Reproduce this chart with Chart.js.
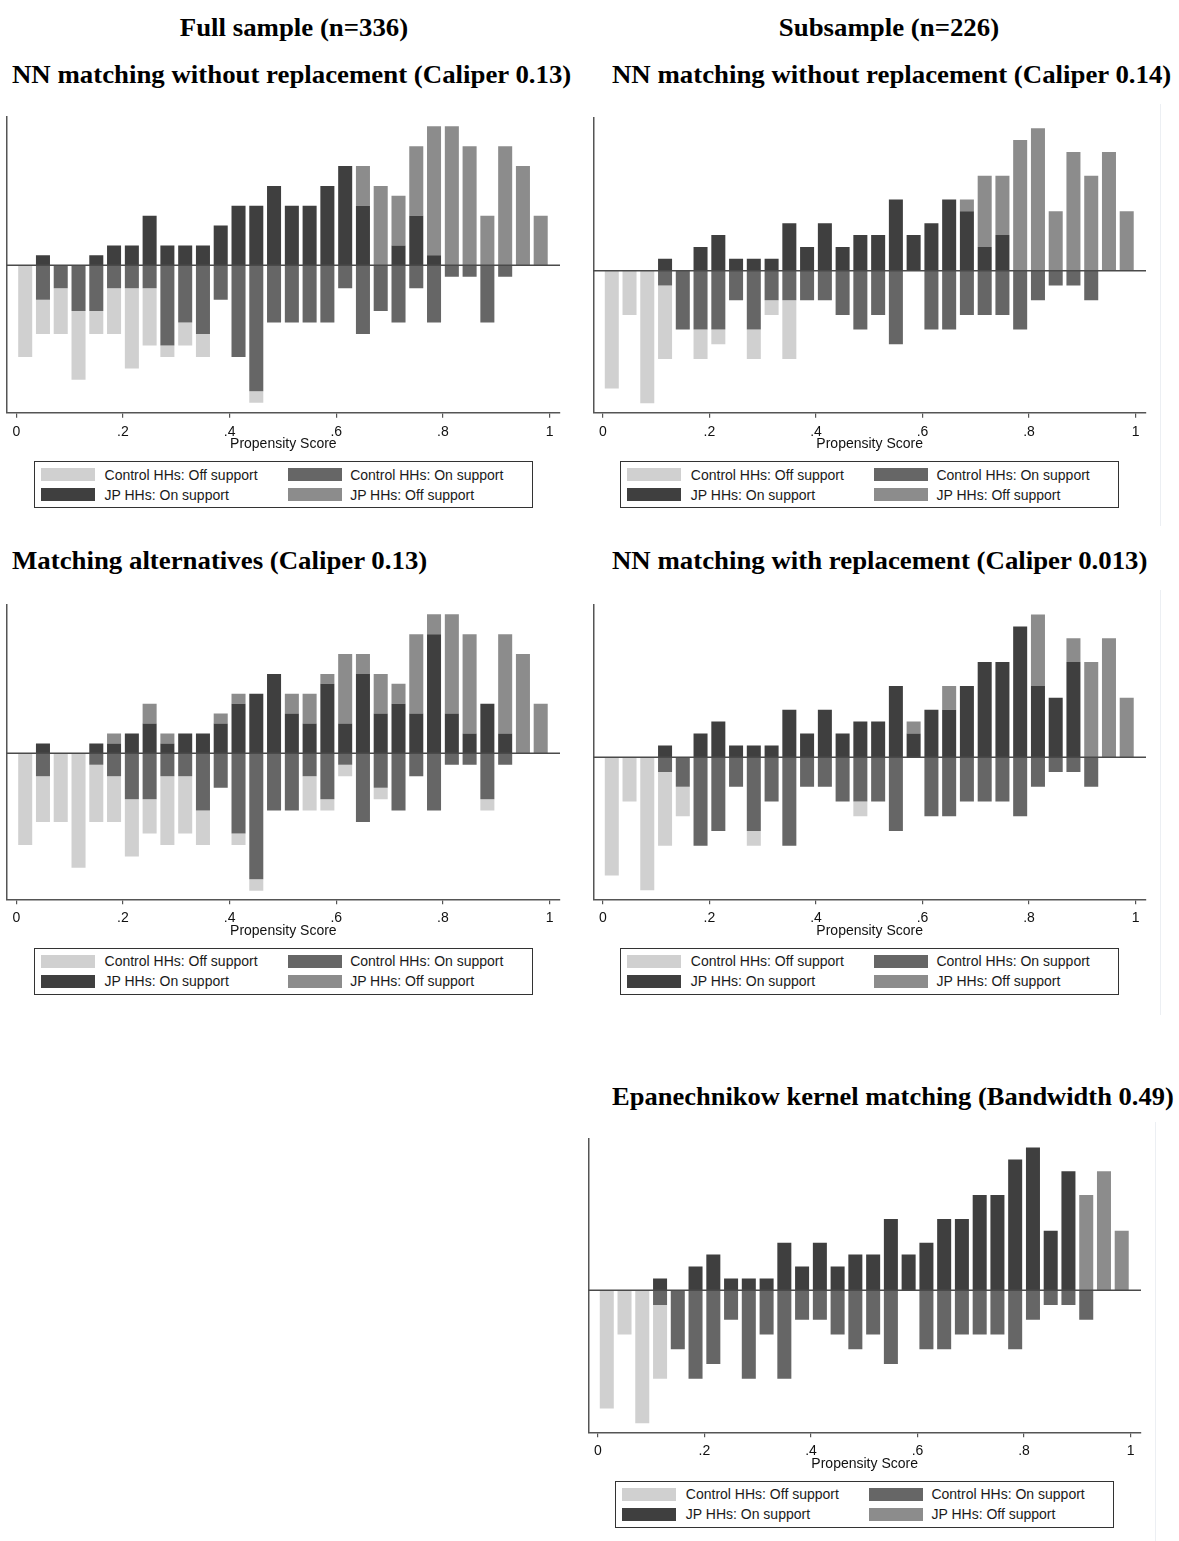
<!DOCTYPE html>
<html><head><meta charset="utf-8">
<script src="https://cdn.jsdelivr.net/npm/chart.js@4.4.1/dist/chart.umd.min.js"></script>
<style>
html,body{margin:0;padding:0;background:#fff;}
body{position:relative;width:1179px;height:1541px;overflow:hidden;}
.t{position:absolute;font-family:'Liberation Serif','Times New Roman',serif;font-weight:bold;font-size:25px;line-height:25px;color:#000;white-space:nowrap;transform:scaleX(1.073);transform-origin:0 0;}
.tc{transform-origin:50% 0;}
canvas{position:absolute;}
.lg{position:absolute;border:1px solid #333;box-sizing:border-box;font-family:'Liberation Sans',Arial,sans-serif;font-size:14px;color:#1a1a1a;}
.sw{position:absolute;width:54px;height:13px;}
.lt{position:absolute;line-height:14px;white-space:nowrap;}
.edge{position:absolute;width:1px;background:#eceff3;}
</style></head><body>
<div class="t tc" style="left:0;width:588px;text-align:center;top:15px;">Full sample (n=336)</div>
<div class="t tc" style="left:600px;width:578px;text-align:center;top:15px;">Subsample (n=226)</div>
<div class="t" style="left:12px;top:62px;">NN matching without replacement (Caliper 0.13)</div>
<div class="t" style="left:612px;top:62px;">NN matching without replacement (Caliper 0.14)</div>
<div class="t" style="left:12px;top:548px;">Matching alternatives (Caliper 0.13)</div>
<div class="t" style="left:612px;top:548px;">NN matching with replacement (Caliper 0.013)</div>
<div class="t" style="left:612px;top:1084px;transform:scaleX(1.06);">Epanechnikow kernel matching (Bandwidth 0.49)</div>
<div class="edge" style="left:1160px;top:104px;height:422px;"></div>
<div class="edge" style="left:1160px;top:590px;height:425px;"></div>
<div class="edge" style="left:1155px;top:1122px;height:419px;"></div>
<script>
// ---- categories: propensity-score bin midpoints (30 bins on [0,1]) ----
const binMid = [0.0167,0.05,0.0833,0.1167,0.15,0.1833,0.2167,0.25,0.2833,0.3167,
                0.35,0.3833,0.4167,0.45,0.4833,0.5167,0.55,0.5833,0.6167,0.65,
                0.6833,0.7167,0.75,0.7833,0.8167,0.85,0.8833,0.9167,0.95,0.9833];
const tickVals = [0,0.2,0.4,0.6,0.8,1];
const tickLabels = ['0','.2','.4','.6','.8','1'];
const axisTitle = 'Propensity Score';
const seriesNames = ['Control HHs: Off support','Control HHs: On support','JP HHs: On support','JP HHs: Off support'];
const seriesColors = ['#d0d0d0','#666666','#3f3f3f','#8c8c8c'];

// ---- counts per bin ----
// Panel 1: Full sample, NN without replacement (Caliper 0.13)
const p1JpOn    = [0,1,0,0,1,2,2,5,2,2,2,4,6,6,8,6,6,8,10,6,0,2,5,1,0,0,0,0,0,0];
const p1JpOff   = [0,0,0,0,0,0,0,0,0,0,0,0,0,0,0,0,0,0,0,4,8,5,7,13,14,12,5,12,10,5];
const p1CtrlOn  = [0,3,2,4,4,2,2,2,7,5,6,3,8,11,5,5,5,5,2,6,4,5,2,5,1,1,5,1,0,0];
const p1CtrlOff = [8,3,4,6,2,4,7,5,1,2,2,0,0,1,0,0,0,0,0,0,0,0,0,0,0,0,0,0,0,0];
// Panel 2: Subsample, NN without replacement (Caliper 0.14)
const p2JpOn    = [0,0,0,1,0,2,3,1,1,1,4,2,4,2,3,3,6,3,4,6,5,2,3,0,0,0,0,0,0,0];
const p2JpOff   = [0,0,0,0,0,0,0,0,0,0,0,0,0,0,0,0,0,0,0,0,1,6,5,11,12,5,10,8,10,5];
const p2CtrlOn  = [0,0,0,1,4,4,4,2,4,2,2,2,2,3,4,3,5,0,4,4,3,3,3,4,2,1,1,2,0,0];
const p2CtrlOff = [8,3,9,5,0,2,1,0,2,1,4,0,0,0,0,0,0,0,0,0,0,0,0,0,0,0,0,0,0,0];
// Panel 3: Full sample, matching alternatives (Caliper 0.13)
const p3JpOn    = [0,1,0,0,1,1,2,3,1,2,2,3,5,6,8,4,3,7,3,8,4,5,4,12,4,2,5,2,0,0];
const p3JpOff   = [0,0,0,0,0,1,0,2,1,0,0,1,1,0,0,2,3,1,7,2,4,2,8,2,10,10,0,10,10,5];
const p3CtrlOn  = [0,2,0,0,1,2,4,4,2,2,5,3,7,11,5,5,2,4,1,6,3,5,2,5,1,1,4,1,0,0];
const p3CtrlOff = [8,4,6,10,5,4,5,3,6,5,3,0,1,1,0,0,3,1,1,0,1,0,0,0,0,0,1,0,0,0];
// Panel 4: Subsample, NN with replacement (Caliper 0.013)
const p4JpOn    = [0,0,0,1,0,2,3,1,1,1,4,2,4,2,3,3,6,2,4,4,6,8,8,11,6,5,8,0,0,0];
const p4JpOff   = [0,0,0,0,0,0,0,0,0,0,0,0,0,0,0,0,0,1,0,2,0,0,0,0,6,0,2,8,10,5];
const p4CtrlOn  = [0,0,0,1,2,6,5,2,5,3,6,2,2,3,3,3,5,0,4,4,3,3,3,4,2,1,1,2,0,0];
const p4CtrlOff = [8,3,9,5,2,0,0,0,1,0,0,0,0,0,1,0,0,0,0,0,0,0,0,0,0,0,0,0,0,0];
// Panel 5: Subsample, Epanechnikow kernel matching (Bandwidth 0.49)
const p5JpOn    = [0,0,0,1,0,2,3,1,1,1,4,2,4,2,3,3,6,3,4,6,6,8,8,11,12,5,10,0,0,0];
const p5JpOff   = [0,0,0,0,0,0,0,0,0,0,0,0,0,0,0,0,0,0,0,0,0,0,0,0,0,0,0,8,10,5];
const p5CtrlOn  = [0,0,0,1,4,6,5,2,6,3,6,2,2,3,4,3,5,0,4,4,3,3,3,4,2,1,1,2,0,0];
const p5CtrlOff = [8,3,9,5,0,0,0,0,0,0,0,0,0,0,0,0,0,0,0,0,0,0,0,0,0,0,0,0,0,0];

// ---- layout (page pixel geometry of each plot region) ----
const panels = [
  {jpOn:p1JpOn,jpOff:p1JpOff,cOn:p1CtrlOn,cOff:p1CtrlOff, box:{l:6.7,t:117,r:560,b:412.7},  y:[-0.0825,0.0830]},
  {jpOn:p2JpOn,jpOff:p2JpOff,cOn:p2CtrlOn,cOff:p2CtrlOff, box:{l:593.3,t:118,r:1146,b:412.7},y:[-0.0927,0.0997]},
  {jpOn:p3JpOn,jpOff:p3JpOff,cOn:p3CtrlOn,cOff:p3CtrlOff, box:{l:6.7,t:605,r:560,b:899.3},  y:[-0.0817,0.0830]},
  {jpOn:p4JpOn,jpOff:p4JpOff,cOn:p4CtrlOn,cOff:p4CtrlOff, box:{l:593.3,t:605,r:1146,b:899.3},y:[-0.0925,0.0992]},
  {jpOn:p5JpOn,jpOff:p5JpOff,cOn:p5CtrlOn,cOff:p5CtrlOff, box:{l:588.3,t:1138.3,r:1141,b:1432.3},y:[-0.0925,0.0990]}
];
const xRange = [-0.018, 1.0195];

const zeroLine = {
  id:'zeroLine',
  afterDatasetsDraw(chart){
    const {ctx, chartArea:{left,right}, scales:{y}} = chart;
    const py = y.getPixelForValue(0);
    ctx.save(); ctx.strokeStyle='#4a4a4a'; ctx.lineWidth=1.4;
    ctx.beginPath(); ctx.moveTo(left,py); ctx.lineTo(right,py); ctx.stroke(); ctx.restore();
  }
};

const sum = a => a.reduce((s,v)=>s+v,0);

panels.forEach(p=>{
  const B = p.box;
  const cl = Math.floor(B.l) - 8, ct = Math.floor(B.t) - 10;
  const cw = Math.ceil(B.r) + 12 - cl;
  const ch = Math.ceil(B.b + 41) - ct;
  const padL = B.l - cl, padT = B.t - ct, padR = cl + cw - B.r;
  const xH = ct + ch - B.b;
  const cv = document.createElement('canvas');
  cv.width = cw; cv.height = ch;
  cv.style.left = cl+'px'; cv.style.top = ct+'px';
  cv.style.width = cw+'px'; cv.style.height = ch+'px';
  document.body.appendChild(cv);
  const nJ = sum(p.jpOn)+sum(p.jpOff), nC = sum(p.cOn)+sum(p.cOff);
  const font = {family:"'Liberation Sans', Arial, sans-serif", size:14};
  new Chart(cv, {
    type:'bar',
    data:{
      labels: binMid,
      datasets:[
        {label:seriesNames[2], data:p.jpOn.map(v=>v/nJ),   backgroundColor:seriesColors[2]},
        {label:seriesNames[3], data:p.jpOff.map(v=>v/nJ),  backgroundColor:seriesColors[3]},
        {label:seriesNames[1], data:p.cOn.map(v=>-v/nC),   backgroundColor:seriesColors[1]},
        {label:seriesNames[0], data:p.cOff.map(v=>-v/nC),  backgroundColor:seriesColors[0]}
      ]
    },
    options:{
      responsive:false, animation:false, devicePixelRatio:1,
      layout:{padding:{left:padL,top:padT,right:padR,bottom:0}},
      datasets:{bar:{categoryPercentage:1, barPercentage:0.79, borderWidth:0}},
      plugins:{legend:{display:false}, tooltip:{enabled:false}, title:{display:false}},
      scales:{
        x:{type:'linear', stacked:true, min:xRange[0], max:xRange[1], offset:false,
           afterBuildTicks:s=>{ s.ticks = tickVals.map(v=>({value:v})); },
           afterFit:s=>{ s.height = xH; },
           ticks:{font, color:'#111', padding:5.6, maxRotation:0, autoSkip:false,
                  callback:(v)=>{ const i = tickVals.findIndex(t=>Math.abs(t-v)<1e-9); return i>=0?tickLabels[i]:''; }},
           grid:{display:true, drawOnChartArea:false, drawTicks:true, tickLength:5, color:'#555', lineWidth:1.2, offset:false},
           border:{display:true, color:'#555', width:1.5},
           title:{display:true, text:axisTitle, font, color:'#111', padding:{top:0,bottom:xH-40}}
        },
        y:{type:'linear', stacked:true, min:p.y[0], max:p.y[1],
           afterFit:s=>{ s.width = 0; },
           ticks:{display:false}, grid:{display:false, drawTicks:false},
           border:{display:true, color:'#555', width:1.5}
        }
      }
    },
    plugins:[zeroLine]
  });
  // legend (HTML, built from the series names/colours)
  const lg = document.createElement('div');
  lg.className='lg';
  const cx = (B.l+B.r)/2;
  lg.style.left=(cx-249.5)+'px'; lg.style.top=(B.b+48.3)+'px';
  lg.style.width='499px'; lg.style.height='47px';
  const order = [0,1,2,3];
  order.forEach((si,k)=>{
    const col = k%2, row = Math.floor(k/2);
    const sw = document.createElement('div'); sw.className='sw';
    sw.style.left=(6+col*246.7)+'px'; sw.style.top=(6.3+row*20)+'px'; sw.style.background=seriesColors[si];
    const tx = document.createElement('div'); tx.className='lt';
    tx.style.left=(69.7+col*245.6)+'px'; tx.style.top=(5.8+row*20)+'px'; tx.textContent=seriesNames[si];
    lg.appendChild(sw); lg.appendChild(tx);
  });
  document.body.appendChild(lg);
});
</script>
</body></html>
